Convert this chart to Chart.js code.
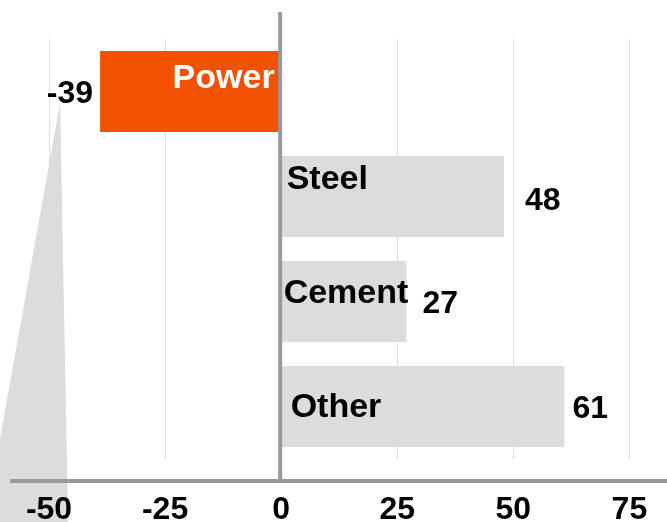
<!DOCTYPE html>
<html>
<head>
<meta charset="utf-8">
<script src="https://cdn.jsdelivr.net/npm/chart.js@4.4.1/dist/chart.umd.min.js"></script>
<style>
  html, body { margin: 0; padding: 0; background: #fff; }
  #wrap { width: 667px; height: 522px; }
</style>
</head>
<body>
<div id="wrap"><canvas id="chart"></canvas></div>
<script>
const sectors = ['Power', 'Steel', 'Cement', 'Other'];
const change = [-39, 48, 27, 61];
const xTicks = [-50, -25, 0, 25, 50, 75];

const barColors = ['#f25100', '#dcdcdc', '#dcdcdc', '#dcdcdc'];
const nameColors = ['#ffffff', '#000000', '#000000', '#000000'];
// label nudges in px: names from bar base / bar top, values from bar end / bar centre
const namePos = [[-6, 37], [5, 33], [2, 42], [9, 51]];
const valuePos = [[-7, 11.5], [21, 13.5], [16, 11.5], [8, 11.5]];

const FONT = '"Liberation Sans", Arial, sans-serif';
const AXIS_GREY = '#999999';

const decor = {
  id: 'decor',
  beforeDraw(chart) {
    // grey wedge hanging from the Power value
    const ctx = chart.ctx;
    const bar = chart.getDatasetMeta(0).data[0];
    const ax = bar.x + valuePos[0][0] - 33;
    const ay = bar.y + valuePos[0][1];
    ctx.save();
    ctx.fillStyle = '#dcdcdc';
    ctx.beginPath();
    ctx.moveTo(ax, ay);
    ctx.lineTo(ax + 8, chart.height);
    ctx.lineTo(ax - 75, chart.height);
    ctx.closePath();
    ctx.fill();
    ctx.restore();
  },
  afterDatasetsDraw(chart) {
    const ctx = chart.ctx;
    const x = chart.scales.x;
    const area = chart.chartArea;
    const zero = x.getPixelForValue(0) - 1;
    const axisY = x.top + 22;

    ctx.save();
    ctx.strokeStyle = AXIS_GREY;
    ctx.lineWidth = 4;
    ctx.beginPath();
    ctx.moveTo(area.left, axisY);
    ctx.lineTo(area.right, axisY);
    ctx.moveTo(zero, 12);
    ctx.lineTo(zero, axisY + 2);
    ctx.stroke();

    ctx.textBaseline = 'alphabetic';
    chart.getDatasetMeta(0).data.forEach((bar, i) => {
      const top = bar.y - bar.height / 2;
      const neg = change[i] < 0;

      ctx.font = 'bold 34px ' + FONT;
      ctx.fillStyle = nameColors[i];
      ctx.textAlign = neg ? 'right' : 'left';
      ctx.fillText(sectors[i], bar.base + namePos[i][0], top + namePos[i][1]);

      ctx.font = 'bold 32px ' + FONT;
      ctx.fillStyle = '#000';
      ctx.fillText(String(change[i]), bar.x + valuePos[i][0], bar.y + valuePos[i][1]);
    });
    ctx.restore();
  }
};

new Chart(document.getElementById('chart'), {
  type: 'bar',
  data: {
    labels: sectors,
    datasets: [{
      data: change,
      backgroundColor: barColors,
      borderWidth: 0,
      categoryPercentage: 1,
      barPercentage: 81 / 105
    }]
  },
  options: {
    indexAxis: 'y',
    responsive: true,
    maintainAspectRatio: false,
    animation: false,
    layout: { padding: { top: 39, left: 10, right: 0, bottom: 0 } },
    plugins: { legend: { display: false }, tooltip: { enabled: false } },
    scales: {
      x: {
        min: -58.4,
        max: 83.1,
        afterBuildTicks: s => { s.ticks = xTicks.map(v => ({ value: v })); },
        afterFit: s => { s.height = 63; s.paddingLeft = 0; s.paddingRight = 0; },
        grid: {
          color: ctx => ctx.tick && ctx.tick.value === 0 ? 'rgba(0,0,0,0)' : '#dddddd',
          lineWidth: 1,
          drawTicks: false
        },
        border: { display: false },
        ticks: {
          padding: 32,
          color: '#000',
          font: { family: FONT, size: 32, weight: 'bold' },
          maxRotation: 0
        }
      },
      y: { display: false }
    }
  },
  plugins: [decor]
});
</script>
</body>
</html>
